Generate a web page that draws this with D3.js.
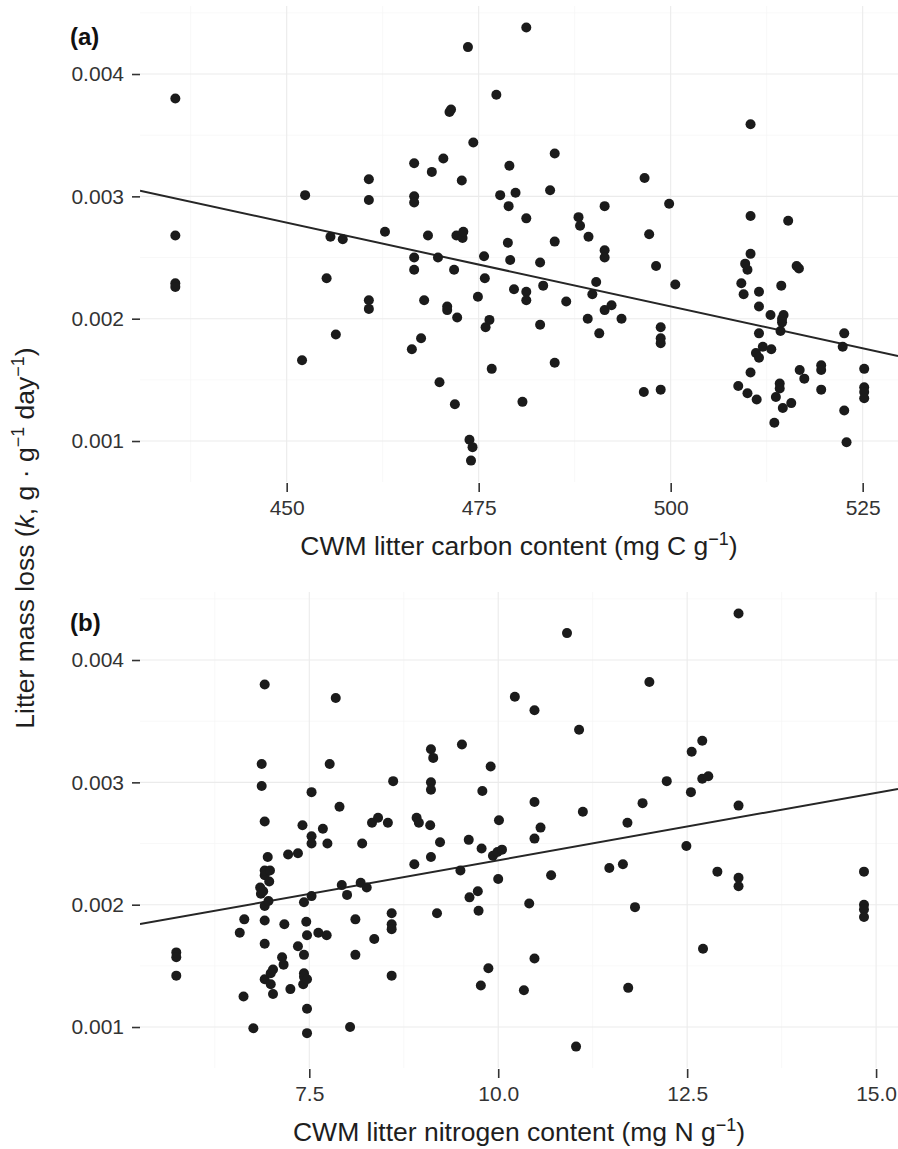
<!DOCTYPE html>
<html>
<head>
<meta charset="utf-8">
<script src="https://d3js.org/d3.v7.min.js"></script>
<style>
    body { margin: 0; background: #fff; }
    svg { display: block; font-family: "Liberation Sans", Arial, Helvetica, sans-serif; }
    .grid-major { stroke: #ebebeb; stroke-width: 1.1; }
    .grid-minor { stroke: #f5f5f5; stroke-width: 0.7; }
    .axis .domain { display: none; }
    .axis line { stroke: #333; stroke-width: 1.6; }
    .axis text { fill: #333; font-size: 21px; font-family: "Liberation Sans", Arial, sans-serif; }
    .dot { fill: #1b1b1b; }
    .fit { fill: none; stroke: #262626; stroke-width: 2; }
    .title { font-size: 26.5px; fill: #1e1e1e; }
    .tag { font-size: 24px; font-weight: bold; fill: #111; }
</style>
</head>
<body>
<svg width="898" height="1149"></svg>
<script>
// panel (a): CWM litter carbon content vs k
var carbon = [
    435.5, 435.5, 435.5, 435.5, 452.0, 452.4, 455.2, 455.7, 456.4, 457.3,
    460.7, 460.7, 460.7, 460.7, 462.8, 466.3, 466.6, 466.6, 466.6, 466.6,
    466.6, 467.5, 467.9, 468.4, 468.9, 469.7, 469.9, 470.4, 470.9, 470.9,
    471.2, 471.4, 471.8, 471.9, 472.1, 472.2, 472.8, 472.9, 473.0, 473.6,
    473.8, 474.0, 474.2, 474.3, 474.9, 475.7, 475.8, 475.9, 476.4, 476.7,
    477.3, 477.8, 478.8, 478.9, 479.0, 479.1, 479.6, 479.8, 480.7, 481.2,
    481.2, 481.2, 481.2, 483.0, 483.0, 483.4, 484.3, 484.9, 484.9, 484.9,
    486.4, 488.0, 488.2, 489.2, 489.3, 489.8, 490.3, 490.7, 491.4, 491.4,
    491.4, 491.4, 492.3, 493.6, 496.5, 496.6, 497.2, 498.1, 498.7, 498.7,
    498.7, 498.7, 499.8, 500.6, 508.8, 509.2, 509.5, 509.7, 510.0, 510.0,
    510.4, 510.4, 510.4, 510.4, 511.1, 511.2, 511.5, 511.5, 511.5, 511.5,
    512.0, 513.0, 513.1, 513.5, 513.7, 514.2, 514.2, 514.3, 514.4, 514.5,
    514.5, 514.6, 514.7, 515.3, 515.7, 516.4, 516.7, 516.8, 517.4, 519.6,
    519.6, 519.6, 522.4, 522.6, 522.6, 522.9, 525.2, 525.2, 525.2, 525.2
];
var lossA = [
    0.00380, 0.00268, 0.00229, 0.00226, 0.00166, 0.00301, 0.00233, 0.00267, 0.00187, 0.00265,
    0.00314, 0.00297, 0.00215, 0.00208, 0.00271, 0.00175, 0.00327, 0.00300, 0.00295, 0.00250,
    0.00240, 0.00184, 0.00215, 0.00268, 0.00320, 0.00250, 0.00148, 0.00331, 0.00210, 0.00207,
    0.00369, 0.00371, 0.00240, 0.00130, 0.00268, 0.00201, 0.00313, 0.00266, 0.00271, 0.00422,
    0.00101, 0.00084, 0.00095, 0.00344, 0.00218, 0.00251, 0.00233, 0.00193, 0.00199, 0.00159,
    0.00383, 0.00301, 0.00262, 0.00292, 0.00325, 0.00248, 0.00224, 0.00303, 0.00132, 0.00438,
    0.00282, 0.00222, 0.00215, 0.00246, 0.00195, 0.00227, 0.00305, 0.00263, 0.00164, 0.00335,
    0.00214, 0.00283, 0.00276, 0.00200, 0.00267, 0.00220, 0.00230, 0.00188, 0.00292, 0.00256,
    0.00250, 0.00207, 0.00211, 0.00200, 0.00140, 0.00315, 0.00269, 0.00243, 0.00193, 0.00184,
    0.00180, 0.00142, 0.00294, 0.00228, 0.00145, 0.00229, 0.00220, 0.00245, 0.00139, 0.00240,
    0.00359, 0.00284, 0.00253, 0.00156, 0.00172, 0.00134, 0.00168, 0.00222, 0.00210, 0.00188,
    0.00177, 0.00203, 0.00175, 0.00115, 0.00136, 0.00147, 0.00143, 0.00190, 0.00227, 0.00200,
    0.00197, 0.00127, 0.00203, 0.00280, 0.00131, 0.00243, 0.00241, 0.00158, 0.00151, 0.00162,
    0.00158, 0.00142, 0.00177, 0.00188, 0.00125, 0.00099, 0.00159, 0.00144, 0.00140, 0.00135
];
var carbonTicks = [450, 475, 500, 525],
    carbonMinor = [437.5, 462.5, 487.5, 512.5];
// fitted line, read at the panel edges
var fitCarbon = [430.9, 529.6],
    fitCarbonLoss = [0.003046, 0.001695];

// panel (b): CWM litter nitrogen content vs k
var nitrogen = [
    5.74, 5.74, 5.74, 6.58, 6.63, 6.64, 6.76, 6.85, 6.86, 6.87,
    6.87, 6.89, 6.91, 6.91, 6.91, 6.91, 6.91, 6.91, 6.91, 6.91,
    6.95, 6.96, 6.97, 6.98, 6.99, 6.99, 7.02, 7.02, 7.14, 7.16,
    7.17, 7.22, 7.25, 7.35, 7.35, 7.41, 7.42, 7.43, 7.43, 7.43,
    7.43, 7.46, 7.47, 7.47, 7.47, 7.47, 7.53, 7.53, 7.53, 7.53,
    7.62, 7.68, 7.73, 7.74, 7.77, 7.85, 7.90, 7.93, 8.00, 8.04,
    8.11, 8.11, 8.18, 8.20, 8.26, 8.33, 8.36, 8.41, 8.54, 8.59,
    8.59, 8.59, 8.59, 8.61, 8.89, 8.92, 8.95, 9.10, 9.11, 9.14,
    9.11, 9.11, 9.11, 9.19, 9.23, 9.50, 9.52, 9.61, 9.62, 9.73,
    9.74, 9.77, 9.78, 9.79, 9.87, 9.90, 9.93, 9.99, 10.05, 10.00,
    10.01, 10.22, 10.34, 10.41, 10.48, 10.48, 10.48, 10.48, 10.56, 10.70,
    10.91, 11.03, 11.07, 11.12, 11.47, 11.65, 11.71, 11.72, 11.81, 11.91,
    12.00, 12.23, 12.49, 12.55, 12.56, 12.70, 12.70, 12.71, 12.78, 12.90,
    13.18, 13.18, 13.18, 13.18, 14.84, 14.84, 14.84, 14.84
];
var lossB = [
    0.00161, 0.00157, 0.00142, 0.00177, 0.00125, 0.00188, 0.00099, 0.00214, 0.00209, 0.00315,
    0.00297, 0.00211, 0.00380, 0.00268, 0.00224, 0.00199, 0.00187, 0.00168, 0.00139, 0.00228,
    0.00239, 0.00203, 0.00219, 0.00228, 0.00144, 0.00135, 0.00147, 0.00127, 0.00157, 0.00151,
    0.00184, 0.00241, 0.00131, 0.00242, 0.00166, 0.00265, 0.00135, 0.00159, 0.00202, 0.00144,
    0.00141, 0.00186, 0.00175, 0.00115, 0.00139, 0.00095, 0.00292, 0.00256, 0.00250, 0.00207,
    0.00177, 0.00262, 0.00175, 0.00250, 0.00315, 0.00369, 0.00280, 0.00216, 0.00208, 0.00100,
    0.00159, 0.00188, 0.00218, 0.00250, 0.00214, 0.00267, 0.00172, 0.00271, 0.00267, 0.00193,
    0.00184, 0.00180, 0.00142, 0.00301, 0.00233, 0.00271, 0.00267, 0.00265, 0.00327, 0.00320,
    0.00300, 0.00294, 0.00239, 0.00193, 0.00251, 0.00228, 0.00331, 0.00253, 0.00206, 0.00211,
    0.00195, 0.00134, 0.00246, 0.00293, 0.00148, 0.00313, 0.00240, 0.00243, 0.00245, 0.00221,
    0.00269, 0.00370, 0.00130, 0.00201, 0.00359, 0.00284, 0.00254, 0.00156, 0.00263, 0.00224,
    0.00422, 0.00084, 0.00343, 0.00276, 0.00230, 0.00233, 0.00267, 0.00132, 0.00198, 0.00283,
    0.00382, 0.00301, 0.00248, 0.00292, 0.00325, 0.00334, 0.00303, 0.00164, 0.00305, 0.00227,
    0.00438, 0.00281, 0.00222, 0.00215, 0.00227, 0.00200, 0.00196, 0.00190
];
var nitrogenTicks = [7.5, 10.0, 12.5, 15.0],
    nitrogenMinor = [6.25, 8.75, 11.25, 13.75];
var fitNitrogen = [5.26, 15.29],
    fitNitrogenLoss = [0.001841, 0.002946];

// shared y axis values
var lossTicks = [0.001, 0.002, 0.003, 0.004],
    lossMinor = [0.0015, 0.0025, 0.0035, 0.0045],
    lossDomain = [0.000665, 0.004556];

(function () {
    var svg = d3.select("svg"),
        width = +svg.attr("width"),
        panelLeft = 140,
        panelHeight = 476;

    function drawPanel(p) {
        var top = p.top,
            bottom = top + panelHeight;

        var scaleX = d3.scaleLinear().domain(p.xDomain).range([panelLeft, width]),
            scaleY = d3.scaleLinear().domain(lossDomain).range([bottom, top]);

        var g = svg.append("g");

        g.append("clipPath").attr("id", "clip-" + p.id)
            .append("rect")
            .attr("x", panelLeft).attr("y", top)
            .attr("width", width - panelLeft).attr("height", panelHeight);

        //grid, minor first so the major lines sit on top
        g.selectAll(".gx-minor").data(p.xMinor).enter().append("line")
            .attr("class", "grid-minor")
            .attr("x1", scaleX).attr("x2", scaleX)
            .attr("y1", top).attr("y2", bottom);
        g.selectAll(".gy-minor").data(lossMinor).enter().append("line")
            .attr("class", "grid-minor")
            .attr("x1", panelLeft).attr("x2", width)
            .attr("y1", scaleY).attr("y2", scaleY);
        g.selectAll(".gx-major").data(p.xTicks).enter().append("line")
            .attr("class", "grid-major")
            .attr("x1", scaleX).attr("x2", scaleX)
            .attr("y1", top).attr("y2", bottom);
        g.selectAll(".gy-major").data(lossTicks).enter().append("line")
            .attr("class", "grid-major")
            .attr("x1", panelLeft).attr("x2", width)
            .attr("y1", scaleY).attr("y2", scaleY);

        //axes
        g.append("g")
            .attr("class", "axis")
            .attr("transform", "translate(0," + (bottom + 1) + ")")
            .call(d3.axisBottom(scaleX).tickValues(p.xTicks).tickFormat(p.xFormat)
                .tickSize(9).tickPadding(8));

        g.append("g")
            .attr("class", "axis")
            .attr("transform", "translate(" + panelLeft + ",0)")
            .call(d3.axisLeft(scaleY).tickValues(lossTicks).tickFormat(d3.format(".3f"))
                .tickSize(8).tickPadding(8));

        //fitted line
        var fit = p.fitX.map(function (x, i) {
            return {x: x, y: p.fitY[i]};
        });
        g.append("path")
            .datum(fit)
            .attr("class", "fit")
            .attr("clip-path", "url(#clip-" + p.id + ")")
            .attr("d", d3.line()
                .x(function (d) { return scaleX(d.x); })
                .y(function (d) { return scaleY(d.y); }));

        //points
        g.selectAll(".dot")
            .data(p.xs)
            .enter().append("circle")
            .attr("class", "dot")
            .attr("r", 5)
            .attr("cx", function (d) { return scaleX(d); })
            .attr("cy", function (d, i) { return scaleY(p.ys[i]); });

        //panel tag
        g.append("text")
            .attr("class", "tag")
            .attr("x", 70)
            .attr("y", top + 39)
            .text(p.tag);

        //x title with superscript
        var title = g.append("text")
            .attr("class", "title")
            .attr("text-anchor", "middle")
            .attr("x", (panelLeft + width) / 2)
            .attr("y", bottom + 73);
        title.append("tspan").text(p.xLabel);
        title.append("tspan").attr("dy", -10).style("font-size", "18px").text("\u22121");
        title.append("tspan").attr("dy", 10).text(")");
    }

    drawPanel({
        id: "a", tag: "(a)", top: 6,
        xs: carbon, ys: lossA,
        xDomain: [430.9, 529.6],
        xTicks: carbonTicks, xMinor: carbonMinor,
        xFormat: d3.format("d"),
        fitX: fitCarbon, fitY: fitCarbonLoss,
        xLabel: "CWM litter carbon content (mg C g"
    });

    drawPanel({
        id: "b", tag: "(b)", top: 592,
        xs: nitrogen, ys: lossB,
        xDomain: [5.26, 15.29],
        xTicks: nitrogenTicks, xMinor: nitrogenMinor,
        xFormat: d3.format(".1f"),
        fitX: fitNitrogen, fitY: fitNitrogenLoss,
        xLabel: "CWM litter nitrogen content (mg N g"
    });

    //shared y title
    var yTitle = svg.append("text")
        .attr("class", "title")
        .attr("text-anchor", "middle")
        .attr("transform", "translate(34,538) rotate(-90)");
    yTitle.append("tspan").text("Litter mass loss (");
    yTitle.append("tspan").style("font-style", "italic").text("k");
    yTitle.append("tspan").text(", g \u00b7 g");
    yTitle.append("tspan").attr("dy", -10).style("font-size", "18px").text("\u22121");
    yTitle.append("tspan").attr("dy", 10).text(" day");
    yTitle.append("tspan").attr("dy", -10).style("font-size", "18px").text("\u22121");
    yTitle.append("tspan").attr("dy", 10).text(")");
})();
</script>
</body>
</html>
